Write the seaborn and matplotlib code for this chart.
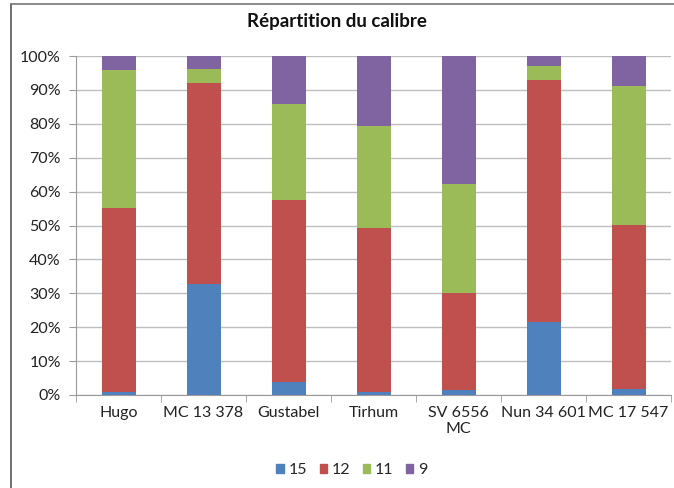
import pandas as pd
import numpy as np
import matplotlib.pyplot as plt
import seaborn as sns
from matplotlib.lines import Line2D
from matplotlib.patches import Patch
from matplotlib.ticker import PercentFormatter

# Values (percent of each variety)
varieties = ['Hugo', 'MC 13 378', 'Gustabel', 'Tirhum', 'SV 6556\nMC', 'Nun 34 601', 'MC 17 547']
calibres = ['15', '12', '11', '9']
cal_15 = [0.9, 32.7, 3.7, 0.8, 1.5, 21.4, 1.8]
cal_12 = [54.4, 59.4, 53.8, 48.4, 28.5, 71.5, 48.4]
cal_11 = [40.5, 4.2, 28.2, 30.1, 32.3, 4.1, 40.9]
cal_9 = [4.2, 3.7, 14.3, 20.7, 37.7, 3.0, 8.9]
colors = ['#4F81BD', '#C0504D', '#9BBB59', '#8064A2']

df = pd.DataFrame({'variety': varieties, '15': cal_15, '12': cal_12, '11': cal_11, '9': cal_9})
cum = df[calibres].cumsum(axis=1)

sns.set_style('white')
plt.rcParams['font.family'] = ['Lato', 'DejaVu Sans']

fig = plt.figure(figsize=(6.74, 4.88), dpi=100)
ax = fig.add_axes([76 / 674, 1 - 395 / 488, 595 / 674, 339 / 488])

# stacked bars: draw cumulative totals from the top layer down
for cal, col in reversed(list(zip(calibres, colors))):
    sns.barplot(x=df['variety'], y=cum[cal], color=col, width=0.4, ax=ax,
                saturation=1, order=varieties, linewidth=0)

ax.set_ylim(0, 100)
ax.set_xlim(-0.5, len(varieties) - 0.5)
ax.set_yticks(np.arange(0, 101, 10))
ax.yaxis.set_major_formatter(PercentFormatter(decimals=0))
ax.grid(axis='y', color='#BFBFBF', linewidth=1)
ax.set_axisbelow(True)
ax.set_xlabel('')
ax.set_ylabel('')
for s in ['top', 'right']:
    ax.spines[s].set_visible(False)
for s in ['left', 'bottom']:
    ax.spines[s].set_color('#9A9A9A')
ax.tick_params(axis='y', length=5, color='#9A9A9A', labelsize=11.5, left=True, pad=6,
               labelcolor='#222222')
ax.tick_params(axis='x', length=0, labelsize=11.5, pad=8, labelcolor='#222222')
ax.set_xticks(range(len(varieties)), varieties)
# category boundary ticks
ax.set_xticks(np.arange(-0.5, len(varieties), 1), minor=True)
ax.tick_params(axis='x', which='minor', length=5, color='#9A9A9A', bottom=True)

fig.text(0.5, 1 - 22 / 488, 'Répartition du calibre', ha='center', va='center',
         fontsize=13.5, fontweight='bold', color='#111111')

handles = [Patch(color=c, label=l) for c, l in zip(colors, calibres)]
fig.legend(handles=handles, loc='center', bbox_to_anchor=(352 / 674, 1 - 470 / 488), ncol=4,
           frameon=False, fontsize=11.5, handlelength=0.45, handleheight=0.45,
           handletextpad=0.3, columnspacing=0.8)

# chart frame: top and left edges only, as in the cropped screenshot
fig.add_artist(Line2D([11 / 674, 11 / 674], [0, 1 - 3.5 / 488], transform=fig.transFigure,
                      color='#555555', linewidth=1.2))
fig.add_artist(Line2D([11 / 674, 1], [1 - 3.5 / 488, 1 - 3.5 / 488], transform=fig.transFigure,
                      color='#777777', linewidth=1.2))

fig.savefig('out.png', dpi=100)
